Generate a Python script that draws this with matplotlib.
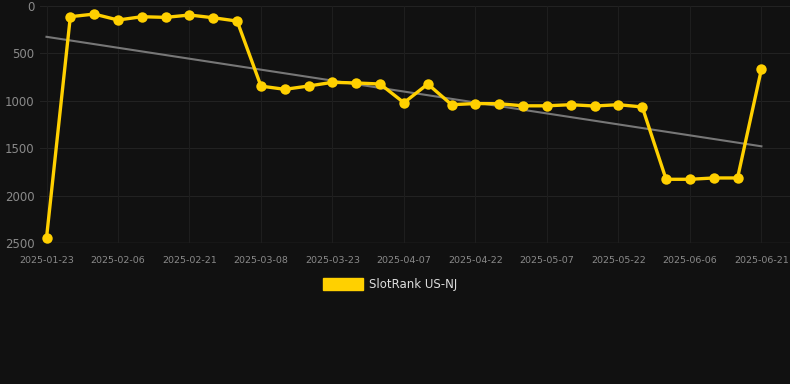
import matplotlib
matplotlib.use("Agg")
import matplotlib.pyplot as plt

# Data
tick_labels = ["2025-01-23", "2025-02-06", "2025-02-21", "2025-03-08", "2025-03-23",
               "2025-04-07", "2025-04-22", "2025-05-07", "2025-05-22", "2025-06-06",
               "2025-06-21"]
rank = [2447, 113, 85, 148, 113, 120, 95, 124, 159, 845,
        879, 844, 805, 812, 823, 1020, 823, 1041, 1029, 1031,
        1053, 1053, 1041, 1055, 1041, 1065, 1828, 1828, 1814, 1814,
        667]
trend_start = 325
trend_end = 1480
series_name = "SlotRank US-NJ"

W, H = 790, 384
fig = plt.figure(figsize=(W / 100, H / 100), dpi=100)
bg = "#111111"
fig.patch.set_facecolor(bg)

L, R, T, B = 40, 790, 6, 243
ax = fig.add_axes([L / W, 1 - B / H, (R - L) / W, (B - T) / H])
ax.set_facecolor(bg)

n = len(rank)
xs = list(range(n))
step = 23.83
x0px = 46.5
ax.set_xlim((L - x0px) / step, (R - x0px) / step)
ax.set_ylim(2500, 0)

# grid
for v in [0, 500, 1000, 1500, 2000]:
    ax.axhline(v, color="#222222", lw=0.8, zorder=0)
ax.axhline(2500, color="#333333", lw=1.0, zorder=0)
tick_pos = list(range(0, n, 3))
for p in tick_pos:
    ax.axvline(p, color="#1e1e1e", lw=0.8, zorder=0)

# trend
ax.plot([0, n - 1], [trend_start, trend_end], color="#777777", lw=1.5, zorder=2)
# series
ax.plot(xs, rank, color="#FFD000", lw=2.4, marker="o", markersize=7.5,
        markeredgewidth=0, zorder=3, solid_joinstyle="round")

ax.set_yticks([0, 500, 1000, 1500, 2000, 2500])
ax.set_yticklabels(["0", "500", "1000", "1500", "2000", "2500"])
ax.set_xticks(tick_pos)
ax.set_xticklabels(tick_labels)
ax.tick_params(axis="y", length=0, pad=4, labelsize=8.5, labelcolor="#8a8a8a")
ax.tick_params(axis="x", length=0, pad=9.5, labelsize=6.8, labelcolor="#8a8a8a")
for s in ax.spines.values():
    s.set_visible(False)

# legend
fig.patches.append(plt.Rectangle((323 / W, 1 - 290 / H), 40 / W, 12 / H,
                                 transform=fig.transFigure, color="#FFD000"))
fig.text(369 / W, 1 - 284.5 / H, series_name, color="#dddddd", fontsize=8.5,
         va="center", ha="left")

fig.savefig("out.png", dpi=100, facecolor=bg)
